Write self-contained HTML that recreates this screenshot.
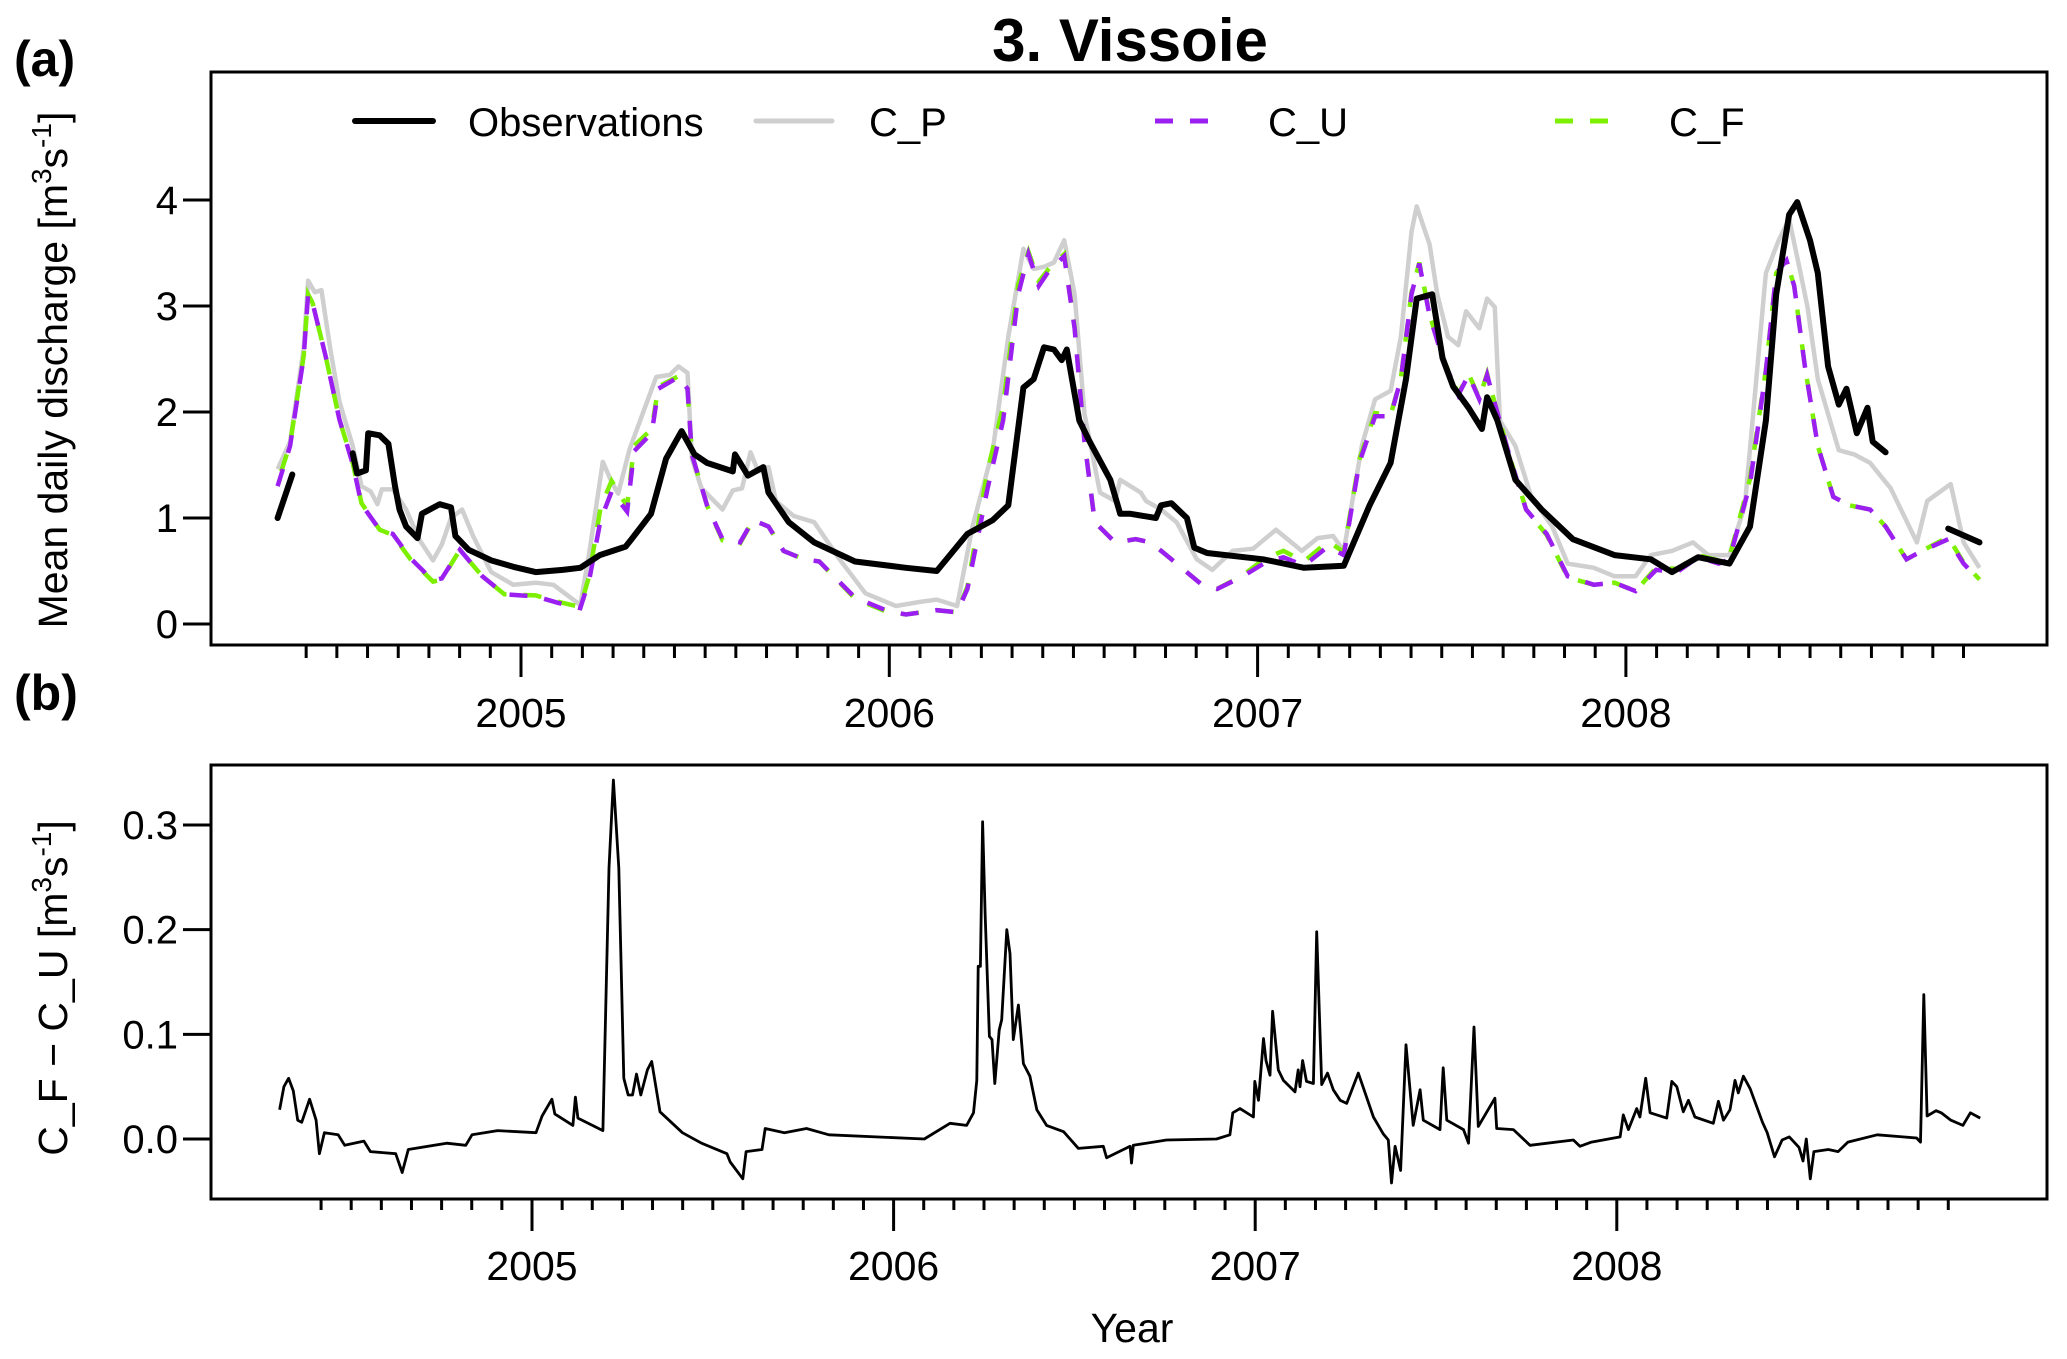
<!DOCTYPE html>
<html><head><meta charset="utf-8"><style>
html,body{margin:0;padding:0;background:#fff;}
svg{display:block;font-family:"Liberation Sans",Arial,sans-serif;}
</style></head><body>
<svg id="chart" width="2067" height="1359" viewBox="0 0 2067 1359" xmlns="http://www.w3.org/2000/svg">
<rect x="0" y="0" width="2067" height="1359" fill="#fff"/>
<text x="1130" y="61" font-size="60" font-weight="bold" text-anchor="middle">3. Vissoie</text>
<text x="14" y="76" font-size="50" font-weight="bold">(a)</text>
<text x="14" y="710" font-size="50" font-weight="bold">(b)</text>
<rect x="211" y="72" width="1836" height="573" fill="none" stroke="#000" stroke-width="3"/>
<rect x="211" y="765" width="1836" height="434" fill="none" stroke="#000" stroke-width="3"/>
<text transform="translate(67,370) rotate(-90)" font-size="41" text-anchor="middle">Mean daily discharge [m<tspan dy="-16" font-size="28">3</tspan><tspan dy="16">s</tspan><tspan dy="-16" font-size="28">-1</tspan><tspan dy="16">]</tspan></text>
<text transform="translate(67,988) rotate(-90)" font-size="41" text-anchor="middle">C_F − C_U [m<tspan dy="-16" font-size="28">3</tspan><tspan dy="16">s</tspan><tspan dy="-16" font-size="28">-1</tspan><tspan dy="16">]</tspan></text>
<text x="1132" y="1342" font-size="41" text-anchor="middle">Year</text>
<g>
<line x1="355" y1="121" x2="433" y2="121" stroke="#000" stroke-width="6" stroke-linecap="round"/>
<text x="468" y="136" font-size="40">Observations</text>
<line x1="756" y1="121" x2="832" y2="121" stroke="#cfcfcf" stroke-width="5" stroke-linecap="round"/>
<text x="869" y="136" font-size="40">C_P</text>
<line x1="1155" y1="121" x2="1212" y2="121" stroke="#9b1ff0" stroke-width="5" stroke-dasharray="18,17"/>
<text x="1268" y="136" font-size="40">C_U</text>
<line x1="1555" y1="121" x2="1612" y2="121" stroke="#7cf000" stroke-width="5" stroke-dasharray="18,17"/>
<text x="1669" y="136" font-size="40">C_F</text>
</g>
<g id="axes"></g>
<g id="series"></g>
</svg>
<script>
const yTicksA = [0, 1, 2, 3, 4];
const yTickLabelsA = ["0", "1", "2", "3", "4"];
const yTicksB = [0, 0.1, 0.2, 0.3];
const yTickLabelsB = ["0.0", "0.1", "0.2", "0.3"];
const yearTicks = [2005, 2006, 2007, 2008];
const yearLabels = ["2005", "2006", "2007", "2008"];

const obsSeg1 = [[2004.339,1.0],[2004.379,1.41]];
const obsSeg2 = [[2004.543,1.61],[2004.555,1.42],[2004.579,1.45],[2004.585,1.8],[2004.616,1.78],[2004.640,1.70],[2004.658,1.30],[2004.670,1.08],[2004.688,0.92],[2004.719,0.81],[2004.731,1.04],[2004.779,1.13],[2004.810,1.1],[2004.822,0.83],[2004.858,0.70],[2004.919,0.6],[2004.979,0.54],[2005.040,0.49],[2005.113,0.51],[2005.161,0.53],[2005.214,0.65],[2005.284,0.73],[2005.300,0.80],[2005.353,1.04],[2005.394,1.56],[2005.436,1.82],[2005.471,1.60],[2005.505,1.52],[2005.575,1.44],[2005.581,1.60],[2005.616,1.40],[2005.658,1.48],[2005.672,1.24],[2005.727,0.96],[2005.796,0.77],[2005.907,0.59],[2006.045,0.53],[2006.129,0.50],[2006.212,0.85],[2006.281,0.98],[2006.323,1.12],[2006.364,2.23],[2006.392,2.31],[2006.420,2.61],[2006.447,2.59],[2006.468,2.49],[2006.482,2.59],[2006.516,1.92],[2006.544,1.72],[2006.600,1.36],[2006.627,1.04],[2006.655,1.04],[2006.724,1.0],[2006.738,1.12],[2006.766,1.14],[2006.808,1.0],[2006.828,0.72],[2006.863,0.67],[2007.015,0.61],[2007.126,0.53],[2007.234,0.55],[2007.304,1.12],[2007.361,1.52],[2007.403,2.31],[2007.432,3.07],[2007.474,3.11],[2007.502,2.51],[2007.531,2.24],[2007.573,2.04],[2007.609,1.84],[2007.623,2.14],[2007.651,1.92],[2007.700,1.36],[2007.771,1.08],[2007.856,0.80],[2007.969,0.65],[2008.068,0.61],[2008.125,0.49],[2008.196,0.63],[2008.281,0.57],[2008.337,0.92],[2008.380,1.92],[2008.408,3.11],[2008.443,3.86],[2008.465,3.98],[2008.500,3.62],[2008.521,3.31],[2008.549,2.43],[2008.578,2.07],[2008.599,2.22],[2008.627,1.80],[2008.656,2.04],[2008.670,1.72],[2008.705,1.62]];
const obsSeg3 = [[2008.875,0.90],[2008.96,0.77]];

const cpSeries = [[2004.339,1.46],[2004.373,1.72],[2004.41,2.60],[2004.422,3.24],[2004.44,3.13],[2004.458,3.15],[2004.482,2.6],[2004.507,2.10],[2004.543,1.68],[2004.567,1.30],[2004.592,1.25],[2004.61,1.13],[2004.622,1.27],[2004.652,1.27],[2004.688,1.08],[2004.725,0.79],[2004.761,0.60],[2004.785,0.75],[2004.81,1.0],[2004.84,1.08],[2004.87,0.83],[2004.919,0.49],[2004.979,0.37],[2005.04,0.39],[2005.088,0.37],[2005.161,0.18],[2005.185,0.66],[2005.222,1.53],[2005.246,1.34],[2005.264,1.23],[2005.295,1.65],[2005.367,2.33],[2005.404,2.35],[2005.428,2.43],[2005.452,2.37],[2005.464,1.56],[2005.49,1.28],[2005.547,1.08],[2005.575,1.26],[2005.60,1.28],[2005.623,1.62],[2005.644,1.44],[2005.672,1.48],[2005.692,1.16],[2005.74,1.02],[2005.796,0.96],[2005.865,0.61],[2005.935,0.29],[2006.018,0.17],[2006.087,0.21],[2006.129,0.23],[2006.184,0.17],[2006.226,0.92],[2006.281,1.64],[2006.323,2.71],[2006.364,3.54],[2006.392,3.35],[2006.42,3.37],[2006.447,3.41],[2006.475,3.62],[2006.503,3.11],[2006.53,1.98],[2006.572,1.24],[2006.613,1.16],[2006.627,1.36],[2006.683,1.24],[2006.697,1.16],[2006.738,1.08],[2006.78,0.96],[2006.835,0.61],[2006.877,0.51],[2006.932,0.69],[2006.988,0.71],[2007.05,0.89],[2007.12,0.69],[2007.163,0.81],[2007.205,0.83],[2007.234,0.69],[2007.283,1.68],[2007.319,2.12],[2007.361,2.20],[2007.389,2.71],[2007.418,3.70],[2007.432,3.94],[2007.467,3.58],[2007.488,3.11],[2007.517,2.71],[2007.545,2.63],[2007.566,2.95],[2007.602,2.79],[2007.623,3.07],[2007.644,2.99],[2007.658,1.92],[2007.70,1.68],[2007.743,1.20],[2007.80,0.92],[2007.842,0.57],[2007.913,0.53],[2007.969,0.45],[2008.026,0.45],[2008.068,0.65],[2008.125,0.69],[2008.182,0.77],[2008.224,0.65],[2008.281,0.65],[2008.323,1.12],[2008.38,3.31],[2008.415,3.62],[2008.443,3.82],[2008.472,3.35],[2008.493,2.99],[2008.521,2.31],[2008.578,1.64],[2008.62,1.6],[2008.663,1.52],[2008.719,1.28],[2008.79,0.77],[2008.818,1.16],[2008.882,1.32],[2008.917,0.77],[2008.96,0.53]];

const cuSeries = [[2004.339,1.30],[2004.373,1.68],[2004.41,2.52],[2004.422,3.11],[2004.434,3.03],[2004.47,2.52],[2004.507,1.93],[2004.543,1.51],[2004.567,1.13],[2004.616,0.89],[2004.652,0.85],[2004.70,0.62],[2004.761,0.41],[2004.785,0.43],[2004.834,0.70],[2004.895,0.45],[2004.955,0.28],[2005.04,0.26],[2005.10,0.20],[2005.161,0.15],[2005.185,0.41],[2005.216,0.98],[2005.246,1.25],[2005.288,1.06],[2005.307,1.63],[2005.355,1.80],[2005.373,2.22],[2005.428,2.33],[2005.452,2.22],[2005.464,1.60],[2005.505,1.12],[2005.547,0.80],[2005.595,0.77],[2005.63,0.98],[2005.672,0.92],[2005.713,0.69],[2005.768,0.61],[2005.81,0.59],[2005.907,0.25],[2005.99,0.13],[2006.045,0.09],[2006.129,0.13],[2006.184,0.11],[2006.212,0.33],[2006.267,1.28],[2006.309,1.92],[2006.35,3.11],[2006.378,3.49],[2006.406,3.19],[2006.433,3.33],[2006.475,3.47],[2006.503,2.79],[2006.53,1.72],[2006.558,0.96],[2006.613,0.77],[2006.669,0.80],[2006.71,0.77],[2006.766,0.61],[2006.849,0.37],[2006.89,0.33],[2006.96,0.45],[2007.021,0.58],[2007.07,0.63],[2007.126,0.55],[2007.191,0.73],[2007.234,0.65],[2007.276,1.52],[2007.319,1.96],[2007.361,1.96],[2007.389,2.31],[2007.418,3.11],[2007.439,3.40],[2007.467,2.91],[2007.502,2.51],[2007.545,2.16],[2007.573,2.35],[2007.602,2.12],[2007.623,2.35],[2007.644,2.08],[2007.686,1.56],[2007.729,1.08],[2007.785,0.85],[2007.842,0.45],[2007.913,0.37],[2007.969,0.39],[2008.026,0.31],[2008.082,0.51],[2008.139,0.49],[2008.196,0.63],[2008.252,0.57],[2008.281,0.61],[2008.337,1.32],[2008.38,2.39],[2008.408,3.31],[2008.436,3.43],[2008.457,3.19],[2008.486,2.43],[2008.521,1.68],[2008.563,1.2],[2008.606,1.12],[2008.663,1.08],[2008.705,0.92],[2008.762,0.61],[2008.804,0.69],[2008.875,0.80],[2008.917,0.57],[2008.96,0.41]];

const cfSeries = [[2004.339,1.33],[2004.373,1.70],[2004.41,2.53],[2004.422,3.11],[2004.434,3.03],[2004.47,2.52],[2004.507,1.93],[2004.543,1.52],[2004.567,1.14],[2004.616,0.89],[2004.652,0.84],[2004.70,0.61],[2004.761,0.40],[2004.785,0.42],[2004.834,0.70],[2004.895,0.45],[2004.955,0.28],[2005.04,0.27],[2005.10,0.21],[2005.161,0.16],[2005.185,0.45],[2005.216,1.10],[2005.246,1.35],[2005.288,1.11],[2005.307,1.68],[2005.355,1.84],[2005.373,2.24],[2005.428,2.34],[2005.452,2.22],[2005.464,1.60],[2005.505,1.12],[2005.547,0.79],[2005.595,0.76],[2005.63,0.98],[2005.672,0.92],[2005.713,0.69],[2005.768,0.61],[2005.81,0.59],[2005.907,0.24],[2005.99,0.12],[2006.045,0.09],[2006.129,0.13],[2006.184,0.11],[2006.212,0.35],[2006.267,1.45],[2006.309,2.05],[2006.35,3.20],[2006.378,3.51],[2006.406,3.23],[2006.433,3.35],[2006.475,3.49],[2006.503,2.80],[2006.53,1.73],[2006.558,0.96],[2006.613,0.77],[2006.669,0.80],[2006.71,0.77],[2006.766,0.61],[2006.849,0.37],[2006.89,0.33],[2006.96,0.46],[2007.021,0.62],[2007.07,0.69],[2007.126,0.59],[2007.191,0.78],[2007.234,0.68],[2007.276,1.55],[2007.319,1.99],[2007.361,1.97],[2007.389,2.32],[2007.418,3.13],[2007.439,3.41],[2007.467,2.92],[2007.502,2.52],[2007.545,2.17],[2007.573,2.36],[2007.602,2.13],[2007.623,2.36],[2007.644,2.08],[2007.686,1.56],[2007.729,1.08],[2007.785,0.84],[2007.842,0.44],[2007.913,0.37],[2007.969,0.39],[2008.026,0.31],[2008.082,0.53],[2008.139,0.52],[2008.196,0.65],[2008.252,0.60],[2008.281,0.63],[2008.337,1.37],[2008.38,2.40],[2008.408,3.31],[2008.436,3.43],[2008.457,3.19],[2008.486,2.43],[2008.521,1.68],[2008.563,1.2],[2008.606,1.12],[2008.663,1.08],[2008.705,0.92],[2008.762,0.61],[2008.804,0.69],[2008.875,0.82],[2008.917,0.58],[2008.96,0.42]];

const diffSeries = [[2004.302,0.028],[2004.314,0.050],[2004.327,0.058],[2004.340,0.046],[2004.352,0.018],[2004.363,0.016],[2004.385,0.038],[2004.403,0.018],[2004.412,-0.014],[2004.426,0.006],[2004.464,0.004],[2004.482,-0.006],[2004.535,-0.002],[2004.553,-0.012],[2004.623,-0.014],[2004.641,-0.032],[2004.658,-0.010],[2004.764,-0.004],[2004.817,-0.006],[2004.834,0.004],[2004.905,0.008],[2005.011,0.006],[2005.028,0.022],[2005.055,0.038],[2005.063,0.024],[2005.113,0.013],[2005.120,0.040],[2005.127,0.020],[2005.196,0.008],[2005.213,0.259],[2005.225,0.343],[2005.240,0.259],[2005.254,0.058],[2005.266,0.042],[2005.278,0.042],[2005.289,0.062],[2005.301,0.042],[2005.319,0.066],[2005.331,0.074],[2005.354,0.026],[2005.416,0.006],[2005.469,-0.004],[2005.539,-0.014],[2005.548,-0.022],[2005.583,-0.038],[2005.592,-0.012],[2005.636,-0.010],[2005.645,0.010],[2005.698,0.006],[2005.759,0.010],[2005.821,0.004],[2006.085,0.0],[2006.156,0.015],[2006.202,0.013],[2006.221,0.025],[2006.230,0.056],[2006.234,0.165],[2006.240,0.165],[2006.246,0.303],[2006.253,0.216],[2006.265,0.098],[2006.272,0.095],[2006.280,0.053],[2006.292,0.104],[2006.299,0.114],[2006.313,0.2],[2006.322,0.177],[2006.331,0.095],[2006.345,0.128],[2006.359,0.072],[2006.377,0.060],[2006.396,0.028],[2006.423,0.013],[2006.470,0.007],[2006.511,-0.009],[2006.580,-0.007],[2006.589,-0.018],[2006.654,-0.007],[2006.658,-0.023],[2006.663,-0.006],[2006.755,-0.001],[2006.893,0.0],[2006.930,0.004],[2006.938,0.025],[2006.958,0.029],[2006.995,0.021],[2006.999,0.055],[2007.009,0.037],[2007.023,0.096],[2007.030,0.075],[2007.041,0.061],[2007.048,0.122],[2007.064,0.066],[2007.078,0.056],[2007.110,0.045],[2007.119,0.066],[2007.124,0.05],[2007.131,0.075],[2007.142,0.055],[2007.161,0.053],[2007.170,0.198],[2007.184,0.052],[2007.200,0.063],[2007.216,0.047],[2007.235,0.037],[2007.253,0.034],[2007.285,0.063],[2007.327,0.021],[2007.354,0.005],[2007.368,-0.001],[2007.377,-0.042],[2007.387,-0.007],[2007.402,-0.030],[2007.417,0.090],[2007.437,0.013],[2007.456,0.047],[2007.465,0.018],[2007.511,0.009],[2007.520,0.068],[2007.530,0.018],[2007.576,0.009],[2007.590,-0.004],[2007.605,0.107],[2007.617,0.012],[2007.663,0.039],[2007.668,0.010],[2007.714,0.009],[2007.760,-0.006],[2007.880,-0.001],[2007.898,-0.007],[2007.930,-0.003],[2008.009,0.002],[2008.018,0.023],[2008.032,0.009],[2008.055,0.029],[2008.064,0.021],[2008.080,0.058],[2008.092,0.025],[2008.138,0.020],[2008.152,0.055],[2008.166,0.05],[2008.184,0.026],[2008.198,0.037],[2008.216,0.021],[2008.267,0.015],[2008.281,0.036],[2008.295,0.018],[2008.313,0.028],[2008.327,0.056],[2008.336,0.044],[2008.350,0.060],[2008.369,0.048],[2008.403,0.016],[2008.416,0.006],[2008.436,-0.017],[2008.457,-0.001],[2008.477,0.002],[2008.504,-0.008],[2008.515,-0.021],[2008.524,0.0],[2008.535,-0.038],[2008.545,-0.012],[2008.585,-0.010],[2008.612,-0.012],[2008.639,-0.003],[2008.720,0.004],[2008.829,0.001],[2008.840,-0.003],[2008.849,0.138],[2008.858,0.022],[2008.883,0.027],[2008.897,0.025],[2008.924,0.018],[2008.957,0.013],[2008.978,0.025],[2009.005,0.020]];

const NS = "http://www.w3.org/2000/svg";
function xa(t){ return 521 + (t - 2005) * 368.3; }
function ya(v){ return 624 - v * 106; }
function xb(t){ return 532 + (t - 2005) * 361.6; }
function yb(v){ return 1139 - v * 1046.7; }

const axes = document.getElementById("axes");
const series = document.getElementById("series");
function mk(tag, attrs, parent){
  const e = document.createElementNS(NS, tag);
  for (const k in attrs) e.setAttribute(k, attrs[k]);
  parent.appendChild(e);
  return e;
}

yTicksA.forEach((v, i) => {
  const l = mk("line", {x1:183, x2:211, y1:ya(v), y2:ya(v), stroke:"#000", "stroke-width":3}, axes);
  
  
  const t = mk("text", {x:178, y:ya(v)+14, "font-size":40, "text-anchor":"end"}, axes);
  t.textContent = yTickLabelsA[i];
  
  
});
yTicksB.forEach((v, i) => {
  const l = mk("line", {x1:183, x2:211, y1:yb(v), y2:yb(v), stroke:"#000", "stroke-width":3}, axes);
  
  
  const t = mk("text", {x:178, y:yb(v)+14, "font-size":40, "text-anchor":"end"}, axes);
  t.textContent = yTickLabelsB[i];
  
  
});
for (let yr = 2004; yr <= 2008; yr++) {
  for (let m = 0; m < 12; m++) {
    const t = yr + m / 12;
    if (t < 2004.4 || t > 2008.95) continue;
    const major = m === 0;
    const la = mk("line", {x1:xa(t), x2:xa(t), y1:645, y2:major?677:658, stroke:"#000", "stroke-width":3}, axes);
    
    
    const lb = mk("line", {x1:xb(t), x2:xb(t), y1:1199, y2:major?1231:1210, stroke:"#000", "stroke-width":3}, axes);
    
    
  }
}
yearTicks.forEach((yr, i) => {
  const ta = mk("text", {x:xa(yr), y:727, "font-size":41, "text-anchor":"middle"}, axes);
  ta.textContent = yearLabels[i];
  
  
  const tb = mk("text", {x:xb(yr), y:1280, "font-size":41, "text-anchor":"middle"}, axes);
  tb.textContent = yearLabels[i];
  
  
});

function pathA(arr){ return arr.map((p,i)=>(i?"L":"M")+xa(p[0]).toFixed(1)+","+ya(p[1]).toFixed(1)).join(""); }
function pathB(arr){ return arr.map((p,i)=>(i?"L":"M")+xb(p[0]).toFixed(1)+","+yb(p[1]).toFixed(1)).join(""); }

const cp = mk("path", {d:pathA(cpSeries), fill:"none", stroke:"#cfcfcf", "stroke-width":4.5, "stroke-linejoin":"round"}, series);



const cf = mk("path", {d:pathA(cfSeries), fill:"none", stroke:"#7cf000", "stroke-width":4.5, "stroke-dasharray":"18,17", "stroke-dashoffset":"-12"}, series);



const cu = mk("path", {d:pathA(cuSeries), fill:"none", stroke:"#9b1ff0", "stroke-width":4.5, "stroke-dasharray":"18,17"}, series);



[obsSeg1, obsSeg2, obsSeg3].forEach(seg => {
  const o = mk("path", {d:pathA(seg), fill:"none", stroke:"#000", "stroke-width":6, "stroke-linejoin":"round", "stroke-linecap":"round"}, series);
  
  
});

const df = mk("path", {d:pathB(diffSeries), fill:"none", stroke:"#000", "stroke-width":2.8, "stroke-linejoin":"round"}, series);


</script>
</body></html>
